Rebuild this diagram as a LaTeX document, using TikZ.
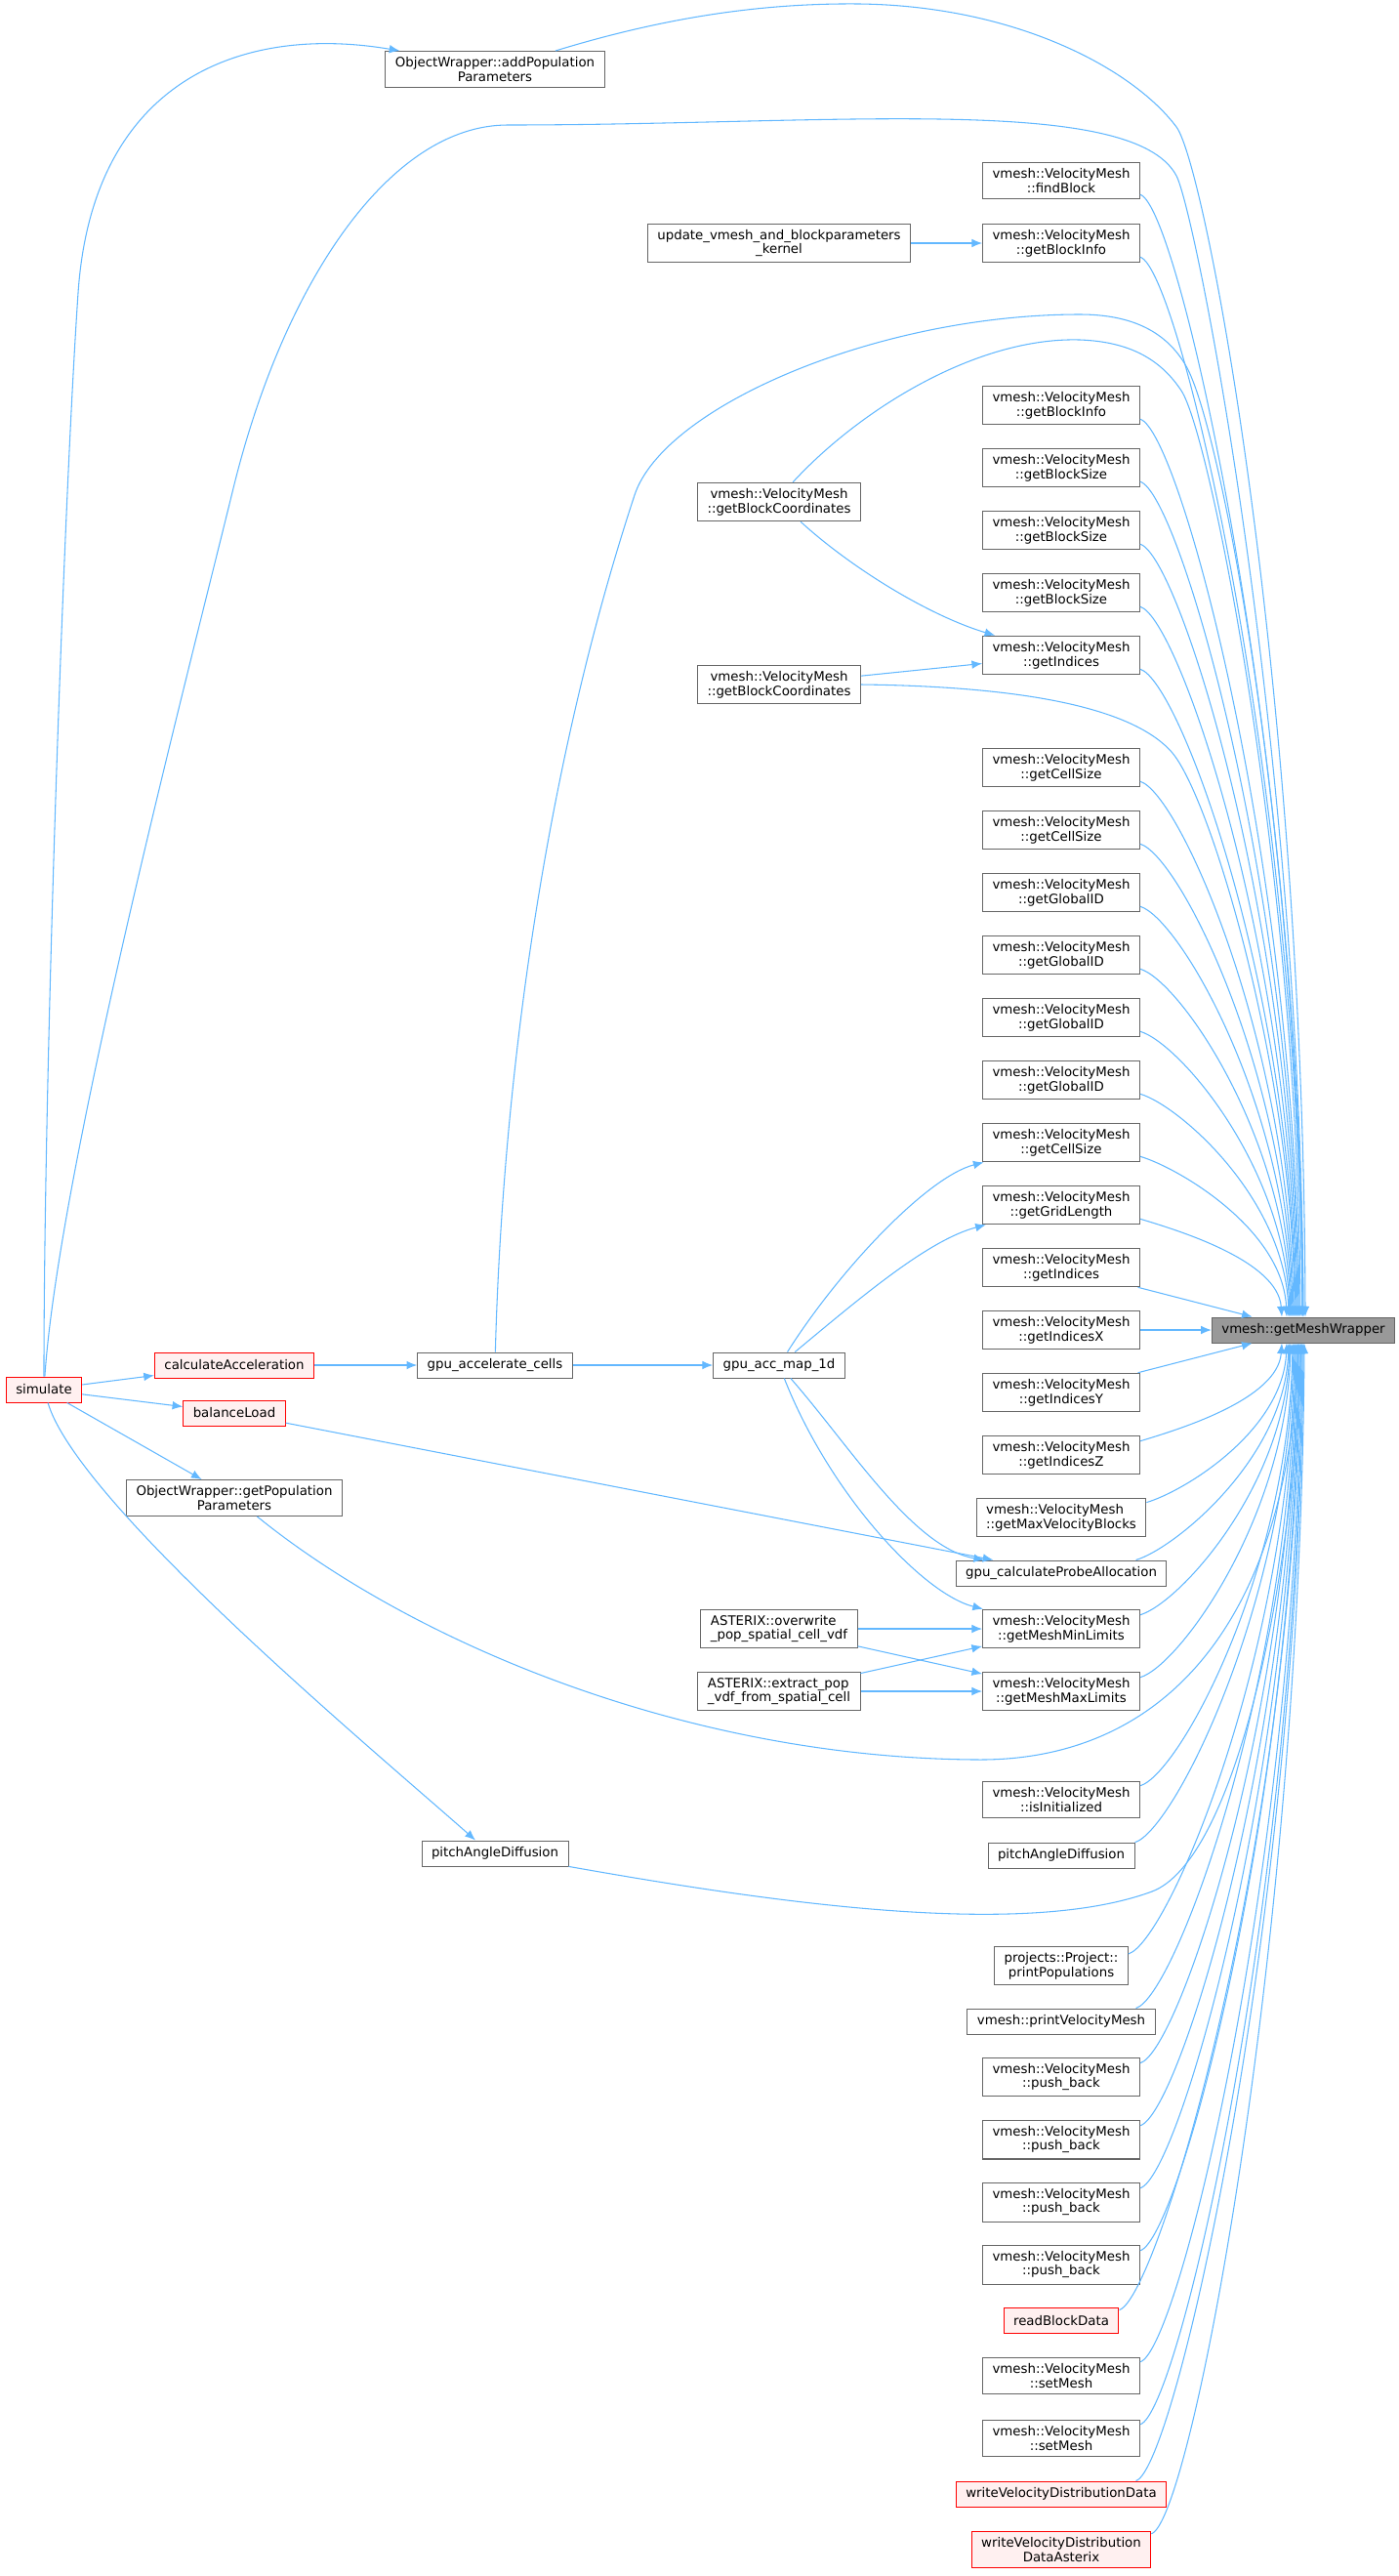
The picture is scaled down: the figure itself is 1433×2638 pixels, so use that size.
\documentclass[tikz,border=0pt]{standalone}
\usepackage{fontspec}
\setmainfont{DejaVu Sans}
\usetikzlibrary{arrows.meta,calc}
\definecolor{callblue}{RGB}{99,184,255}
\definecolor{frame}{RGB}{102,102,102}
\definecolor{rootgray}{RGB}{153,153,153}
\definecolor{hotfill}{RGB}{255,240,240}
\newcommand{\callup}[2]{
  % caller above the wrapper, #2 = offset of the tip on the wrapper
  \draw[call] (#1.-10) .. controls +(40,12) and ($(MW.north)!.5!(MW.north |- #1.east)+(#2-4,0)$) .. ($(MW.north)+(#2,0)$);
}
\newcommand{\calldown}[2]{
  % caller below the wrapper
  \draw[call] (#1.10) .. controls +(40,-12) and ($(MW.south)!.5!(MW.south |- #1.east)+(#2-4,0)$) .. ($(MW.south)+(#2,0)$);
}
\tikzstyle{fn}=[draw=frame, fill=white, line width=.75pt, align=center, inner xsep=7.5pt, inner ysep=4.5pt, minimum height=19.5pt, font=\fontsize{10}{11}\selectfont]
\tikzstyle{fnred}=[fn, draw=red, fill=hotfill]
\tikzstyle{fnroot}=[fn, fill=rootgray]
\tikzstyle{call}=[-{Latex[length=8pt,width=6.5pt]}, color=callblue, line width=.8pt]
\tikzset{x=.75pt}
\tikzset{y=-.75pt}

\begin{document}
\begin{tikzpicture}
  \useasboundingbox (0,0) rectangle (1433,2638);
  %% the called function
  \draw (1335,1362) node[fnroot] (MW) {vmesh::getMeshWrapper};

  %% direct callers
  \draw (1087,185) node[fn] (FB) {vmesh::VelocityMesh\\::findBlock};
  \draw (1087,249) node[fn] (GBIa) {vmesh::VelocityMesh\\::getBlockInfo};
  \draw (1087,415) node[fn] (GBIb) {vmesh::VelocityMesh\\::getBlockInfo};
  \draw (1087,479) node[fn] (GBSa) {vmesh::VelocityMesh\\::getBlockSize};
  \draw (1087,543) node[fn] (GBSb) {vmesh::VelocityMesh\\::getBlockSize};
  \draw (1087,607) node[fn] (GBSc) {vmesh::VelocityMesh\\::getBlockSize};
  \draw (1087,671) node[fn] (GIa) {vmesh::VelocityMesh\\::getIndices};
  \draw (1087,786) node[fn] (GCSa) {vmesh::VelocityMesh\\::getCellSize};
  \draw (1087,850) node[fn] (GCSb) {vmesh::VelocityMesh\\::getCellSize};
  \draw (1087,914) node[fn] (GGIa) {vmesh::VelocityMesh\\::getGlobalID};
  \draw (1087,978) node[fn] (GGIb) {vmesh::VelocityMesh\\::getGlobalID};
  \draw (1087,1042) node[fn] (GGIc) {vmesh::VelocityMesh\\::getGlobalID};
  \draw (1087,1106) node[fn] (GGId) {vmesh::VelocityMesh\\::getGlobalID};
  \draw (1087,1170) node[fn] (GCSc) {vmesh::VelocityMesh\\::getCellSize};
  \draw (1087,1234) node[fn] (GGL) {vmesh::VelocityMesh\\::getGridLength};
  \draw (1087,1298) node[fn] (GIb) {vmesh::VelocityMesh\\::getIndices};
  \draw (1087,1362) node[fn] (GIX) {vmesh::VelocityMesh\\::getIndicesX};
  \draw (1087,1426) node[fn] (GIY) {vmesh::VelocityMesh\\::getIndicesY};
  \draw (1087,1490) node[fn] (GIZ) {vmesh::VelocityMesh\\::getIndicesZ};
  \draw (1087,1554) node[fn,align=left] (GMVB) {vmesh::VelocityMesh\\::getMaxVelocityBlocks};
  \draw (1087,1611) node[fn] (GCP) {gpu\_calculateProbeAllocation};
  \draw (1087,1668) node[fn] (GMin) {vmesh::VelocityMesh\\::getMeshMinLimits};
  \draw (1087,1732) node[fn] (GMax) {vmesh::VelocityMesh\\::getMeshMaxLimits};
  \draw (1087,1843) node[fn] (INI) {vmesh::VelocityMesh\\::isInitialized};
  \draw (1087,1900) node[fn] (PAR) {pitchAngleDiffusion};
  \draw (1087,2013) node[fn] (PP) {projects::Project::\\printPopulations};
  \draw (1087,2070) node[fn] (PVM) {vmesh::printVelocityMesh};
  \draw (1087,2127) node[fn] (PBa) {vmesh::VelocityMesh\\::push\_back};
  \draw (1087,2191) node[fn] (PBb) {vmesh::VelocityMesh\\::push\_back};
  \draw (1087,2255) node[fn] (PBc) {vmesh::VelocityMesh\\::push\_back};
  \draw (1087,2319) node[fn] (PBd) {vmesh::VelocityMesh\\::push\_back};
  \draw (1087,2376) node[fnred] (RBD) {readBlockData};
  \draw (1087,2433) node[fn] (SMa) {vmesh::VelocityMesh\\::setMesh};
  \draw (1087,2497) node[fn] (SMb) {vmesh::VelocityMesh\\::setMesh};
  \draw (1087,2554) node[fnred] (WVD) {writeVelocityDistributionData};
  \draw (1087,2611) node[fnred] (WVDA) {writeVelocityDistribution\\DataAsterix};

  %% further up the call chain
  \draw (798,249) node[fn] (UV) {update\_vmesh\_and\_blockparameters\\\_kernel};
  \draw (798,514) node[fn] (BCa) {vmesh::VelocityMesh\\::getBlockCoordinates};
  \draw (798,701) node[fn] (BCb) {vmesh::VelocityMesh\\::getBlockCoordinates};
  \draw (798,1398) node[fn] (GAM) {gpu\_acc\_map\_1d};
  \draw (798,1668) node[fn,align=left] (AO) {ASTERIX::overwrite\\\_pop\_spatial\_cell\_vdf};
  \draw (798,1732) node[fn,align=left] (AE) {ASTERIX::extract\_pop\\\_vdf\_from\_spatial\_cell};
  \draw (507,71) node[fn] (AP) {ObjectWrapper::addPopulation\\Parameters};
  \draw (507,1398) node[fn] (GAC) {gpu\_accelerate\_cells};
  \draw (507,1898) node[fn] (PAL) {pitchAngleDiffusion};
  \draw (240,1398) node[fnred] (CA) {calculateAcceleration};
  \draw (240,1447) node[fnred] (BL) {balanceLoad};
  \draw (240,1534) node[fn] (GPP) {ObjectWrapper::getPopulation\\Parameters};
  \draw (45,1423) node[fnred] (sim) {simulate};

  %% straight calls
  \draw[call] (UV) -- (GBIa);
  \draw[call] (sim) -- (CA);
  \draw[call] (sim) -- (BL);
  \draw[call] (sim) -- (GPP);
  \draw[call] (CA) -- (GAC);
  \draw[call] (GAC) -- (GAM);
  \draw[call] (BL) -- (GCP);
  \draw[call] (BCb.6) -- (GIa.186);
  \draw[call] (AO) -- (GMin);
  \draw[call] (AO) -- (GMax);
  \draw[call] (AE) -- (GMin);
  \draw[call] (AE) -- (GMax);
  \draw[call] (GIb) -- (MW);
  \draw[call] (GIX) -- (MW);
  \draw[call] (GIY) -- (MW);

  %% bent calls
  \draw[call] (BCa) .. controls (870,580) and (950,630) .. (GIa);
  \draw[call] (GAM) .. controls (860,1300) and (950,1205) .. (GCSc);
  \draw[call] (GAM) .. controls (880,1330) and (950,1270) .. (GGL);
  \draw[call] (GAM) .. controls (870,1480) and (935,1585) .. (GCP);
  \draw[call] (GAM) .. controls (850,1530) and (945,1632) .. (GMin);
  \draw[call] (sim) .. controls (80,1540) and (380,1790) .. ($(PAL.north)+(-20,0)$);
  \draw[call] (sim) .. controls (45,1100) and (65,520) .. (80,300)
    .. controls (95,80) and (250,25) .. ($(AP.north west)+(15,0)$);

  %% long calls into the wrapper
  \draw[call] (sim) .. controls (60,1200) and (190,700) .. (239,500)
    .. controls (291,288) and (400,128) .. (520,128)
    .. controls (850,128) and (1160,95) .. (1205,180)
    .. controls (1225,218) and (1332,760) .. ($(MW.north)+(0,0)$);
  \draw[call] (AP) .. controls (680,18) and (780,3) .. (880,4)
    .. controls (1040,6) and (1160,70) .. (1205,130)
    .. controls (1235,170) and (1335,700) .. ($(MW.north)+(2,0)$);
  \draw[call] (GAC) .. controls (515,1100) and (560,780) .. (650,507)
    .. controls (680,416) and (900,322) .. (1106,322)
    .. controls (1160,322) and (1195,340) .. (1215,375)
    .. controls (1250,436) and (1330,850) .. ($(MW.north)+(-1,0)$);
  \draw[call] (BCa.55) .. controls (880,420) and (1000,345) .. (1106,348)
    .. controls (1160,350) and (1190,370) .. (1210,400)
    .. controls (1240,445) and (1330,900) .. ($(MW.north)+(-3,0)$);
  \draw[call] (BCb.east) .. controls (1050,703) and (1160,725) .. (1200,770)
    .. controls (1240,815) and (1325,1100) .. ($(MW.north)+(-9,0)$);
  \draw[call] (GPP) .. controls (420,1680) and (700,1800) .. (1000,1802)
    .. controls (1200,1804) and (1320,1650) .. ($(MW.south)+(-5,0)$);
  \draw[call] (PAL) .. controls (800,1950) and (1050,1985) .. (1180,1937)
    .. controls (1260,1907) and (1322,1650) .. ($(MW.south)+(-2,0)$);

  \callup{FB}{0}
  \callup{GBIa}{-1}
  \callup{GBIb}{-4}
  \callup{GBSa}{-5}
  \callup{GBSb}{-6}
  \callup{GBSc}{-7}
  \callup{GIa}{-8}
  \callup{GCSa}{-10}
  \callup{GCSb}{-11}
  \callup{GGIa}{-12}
  \callup{GGIb}{-13}
  \callup{GGIc}{-14}
  \callup{GGId}{-15}
  \callup{GCSc}{-17}
  \callup{GGL}{-22}

  \calldown{GIZ}{-22}
  \calldown{GMVB}{-17}
  \calldown{GCP}{-15}
  \calldown{GMin}{-14}
  \calldown{GMax}{-13}
  \calldown{INI}{-11}
  \calldown{PAR}{-10}
  \calldown{PP}{-9}
  \calldown{PVM}{-8}
  \calldown{PBa}{-7}
  \calldown{PBb}{-6}
  \calldown{PBc}{-5}
  \calldown{PBd}{-4}
  \calldown{RBD}{-3}
  \calldown{SMa}{-2}
  \calldown{SMb}{-1}
  \calldown{WVD}{0}
  \calldown{WVDA}{1}
\end{tikzpicture}
\end{document}
